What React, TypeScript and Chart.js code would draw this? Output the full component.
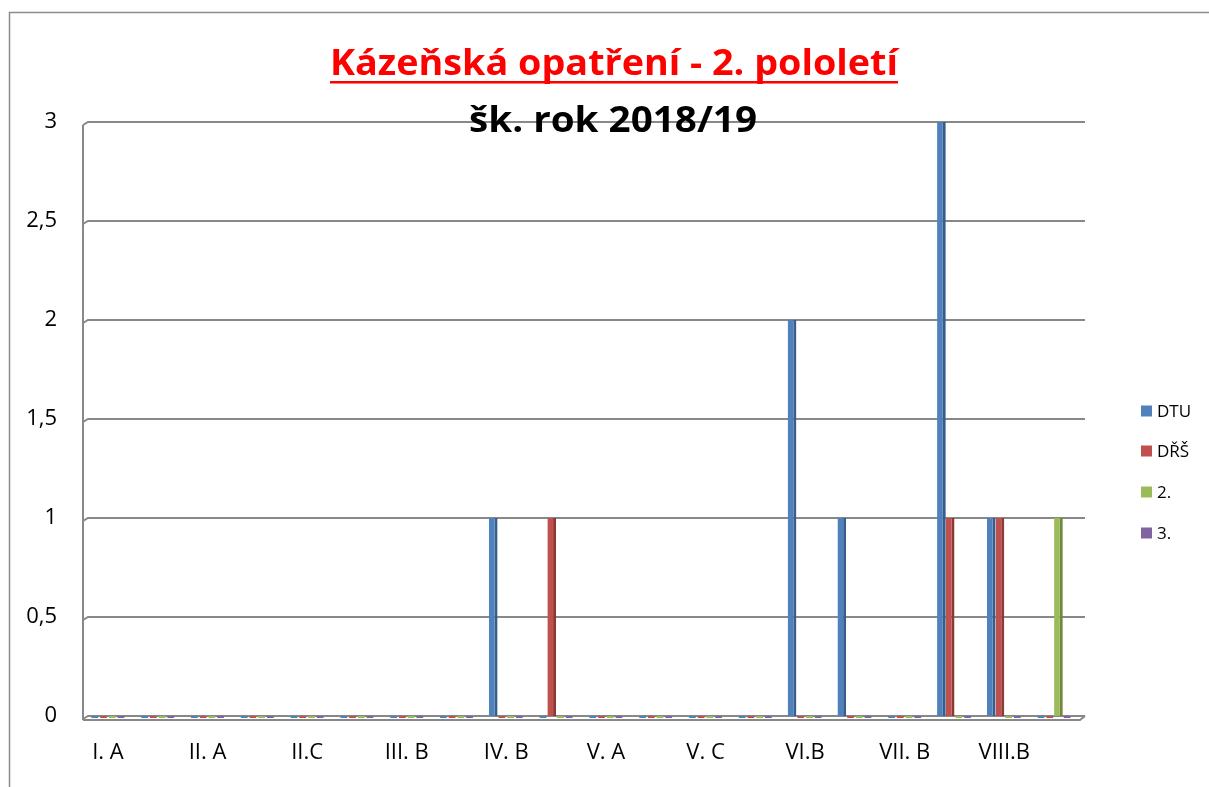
import React, { useEffect, useRef } from "react";
import { Chart, registerables } from "chart.js";

Chart.register(...registerables);

const categories = [
  "I. A", "I. B", "II. A", "II. B", "II.C", "III. A", "III. B", "IV. A", "IV. B", "IV. C",
  "V. A", "V. B", "V. C", "VI.A", "VI.B", "VII. A", "VII. B", "VIII.A", "VIII.B", "IX.A",
];
const dtu = [0, 0, 0, 0, 0, 0, 0, 0, 1, 0, 0, 0, 0, 0, 2, 1, 0, 3, 1, 0];
const drs = [0, 0, 0, 0, 0, 0, 0, 0, 0, 1, 0, 0, 0, 0, 0, 0, 0, 1, 1, 0];
const second = [0, 0, 0, 0, 0, 0, 0, 0, 0, 0, 0, 0, 0, 0, 0, 0, 0, 0, 0, 1];
const third = [0, 0, 0, 0, 0, 0, 0, 0, 0, 0, 0, 0, 0, 0, 0, 0, 0, 0, 0, 0];
const seriesNames = ["DTU", "DŘŠ", "2.", "3."];
const yTicks = [0, 0.5, 1, 1.5, 2, 2.5, 3];
const titleText = "Kázeňská opatření - 2. pololetí";
const subtitleText = "šk. rok 2018/19";

const FONT = "'Open Sans', 'Noto Sans', sans-serif";
const fills = ["#4F81BD", "#C0504D", "#9BBB59", "#8064A2"];
const sides = ["#385D8A", "#8C3836", "#71893F", "#5C4776"];

function stretchedText(ctx: any, text: string, cx: number, baseline: number, targetW: number) {
  const w = ctx.measureText(text).width;
  const sx = targetW / w;
  ctx.save();
  ctx.translate(cx, baseline);
  ctx.scale(sx, 1);
  ctx.textAlign = "center";
  ctx.fillText(text, 0, 0);
  ctx.restore();
}

const decorPlugin = {
  id: "decor",
  beforeDatasetsDraw(chart: any) {
    const ctx = chart.ctx;
    const area = chart.chartArea;
    const y = chart.scales.y;
    ctx.save();
    ctx.strokeStyle = "#888888";
    ctx.lineWidth = 2;
    ctx.beginPath();
    ctx.moveTo(area.left, y.getPixelForValue(3) + 3);
    ctx.lineTo(area.left, y.getPixelForValue(0) + 4);
    ctx.stroke();
    y.ticks.forEach((t: any) => {
      const py = y.getPixelForValue(t.value);
      ctx.beginPath();
      ctx.moveTo(area.left, py + 3);
      ctx.lineTo(area.left + 5, py);
      ctx.lineTo(area.right + 6, py);
      ctx.stroke();
    });
    const by = y.getPixelForValue(0);
    ctx.beginPath();
    ctx.moveTo(area.left, by + 4);
    ctx.lineTo(area.right + 1, by + 4);
    ctx.lineTo(area.right + 6, by);
    ctx.stroke();
    ctx.restore();
  },
  afterDatasetsDraw(chart: any) {
    const ctx = chart.ctx;
    ctx.save();
    chart.data.datasets.forEach((ds: any, i: number) => {
      const meta = chart.getDatasetMeta(i);
      meta.data.forEach((el: any, j: number) => {
        if (ds.data[j] === 0) {
          const p = el.getProps(["x", "y", "width", "base"], true);
          ctx.strokeStyle = fills[i];
          ctx.lineWidth = 2;
          ctx.beginPath();
          ctx.moveTo(p.x - p.width / 2 + 1, p.base + 1);
          ctx.lineTo(p.x + p.width / 2 - 1, p.base + 1);
          ctx.stroke();
        }
      });
    });
    ctx.restore();
  },
  afterDraw(chart: any) {
    const ctx = chart.ctx;
    ctx.save();
    ctx.strokeStyle = "#8c8c8c";
    ctx.lineWidth = 1.5;
    ctx.beginPath();
    ctx.moveTo(9.5, 787);
    ctx.lineTo(9.5, 12.5);
    ctx.lineTo(1209, 12.5);
    ctx.stroke();
    ctx.textBaseline = "alphabetic";
    ctx.font = `bold 35px ${FONT}`;
    ctx.fillStyle = "#FF0000";
    stretchedText(ctx, titleText, 614, 75, 568);
    ctx.fillRect(330, 81, 568, 2.5);
    ctx.fillStyle = "#000000";
    stretchedText(ctx, subtitleText, 613, 132, 288);
    ctx.textAlign = "left";
    ctx.textBaseline = "middle";
    ctx.font = `17px ${FONT}`;
    const ly = [411, 451, 492, 533];
    seriesNames.forEach((n, i) => {
      ctx.fillStyle = fills[i];
      ctx.fillRect(1141, ly[i] - 5.5, 11, 11);
      ctx.fillStyle = "#000000";
      ctx.fillText(n, 1157, ly[i] + 1);
    });
    ctx.restore();
  },
};

export default function App() {
  const ref = useRef<HTMLCanvasElement>(null);
  useEffect(() => {
    document.body.style.margin = "0";
    const seriesData = [dtu, drs, second, third];
    const chart = new Chart(ref.current!, {
      type: "bar",
      data: {
        labels: categories,
        datasets: seriesData.map((d, i) => ({
          label: seriesNames[i],
          data: d,
          backgroundColor: fills[i],
          borderColor: sides[i],
          borderWidth: { left: 0, right: 3, top: 0, bottom: 0 },
          borderSkipped: false,
          categoryPercentage: 0.7,
          barPercentage: 1.0,
        })),
      },
      options: {
        animation: false,
        responsive: false,
        maintainAspectRatio: false,
        layout: { padding: { top: 122, left: 0, right: 130, bottom: 0 } },
        plugins: {
          legend: { display: false },
          title: { display: false },
          tooltip: { enabled: false },
        },
        scales: {
          x: {
            grid: { display: false, drawTicks: false },
            border: { display: false },
            ticks: {
              autoSkip: false,
              maxRotation: 0,
              minRotation: 0,
              padding: 24,
              color: "#000000",
              font: { family: FONT, size: 22 },
              callback: (v: any, i: number) => (i % 2 === 0 ? categories[i] : ""),
            },
            afterFit: (s: any) => {
              s.height = 787 - 716;
            },
          },
          y: {
            min: 0,
            max: 3,
            afterBuildTicks: (s: any) => {
              s.ticks = yTicks.map((v) => ({ value: v }));
            },
            grid: { display: false, drawTicks: false },
            border: { display: false },
            ticks: {
              padding: 26,
              color: "#000000",
              font: { family: FONT, size: 22 },
              callback: (v: any) => String(v).replace(".", ","),
            },
            afterFit: (s: any) => {
              s.width = 83;
            },
          },
        },
      },
      plugins: [decorPlugin],
    });
    return () => chart.destroy();
  }, []);
  return (
    <div style={{ width: 1209, height: 787 }}>
      <canvas ref={ref} width={1209} height={787} style={{ display: "block" }} />
    </div>
  );
}
